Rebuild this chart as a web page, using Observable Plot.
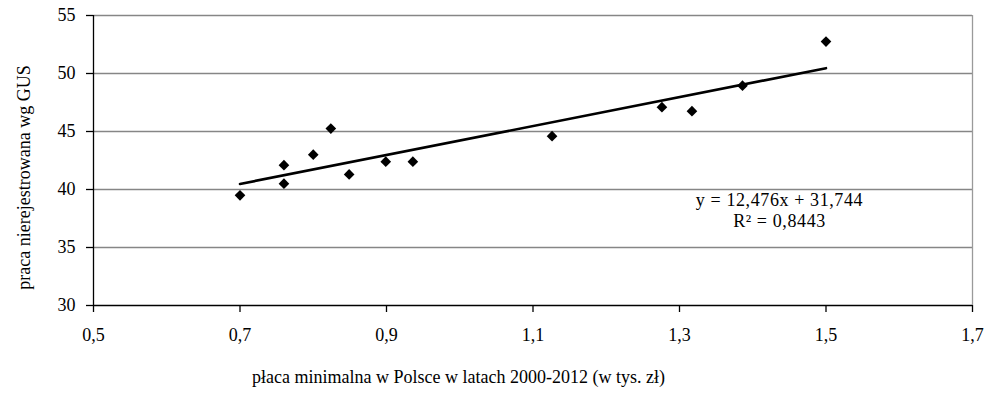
<!DOCTYPE html>
<html>
<head>
<meta charset="utf-8">
<script src="https://cdn.jsdelivr.net/npm/d3@7"></script>
<script src="https://cdn.jsdelivr.net/npm/@observablehq/plot@0.6"></script>
<style>
  html, body { margin: 0; padding: 0; background: #fff; }
  #chart { position: relative; width: 990px; height: 400px; }
  svg { font-family: "Liberation Serif", "DejaVu Serif", serif; }
  .eq text { letter-spacing: 0.6px; }
</style>
</head>
<body>
<div id="chart"></div>
<script>
// Data (minimum wage vs unregistered work, 2000-2012)
const minWage = [0.700, 0.760, 0.760, 0.800, 0.824, 0.849, 0.899, 0.936, 1.126, 1.276, 1.317, 1.386, 1.500];
const unregistered = [39.5, 42.1, 40.5, 43.0, 45.25, 41.3, 42.4, 42.4, 44.6, 47.1, 46.75, 48.95, 52.75];
const trendSlope = 12.476;
const trendIntercept = 31.744;
const equationLines = ["y = 12,476x + 31,744", "R² = 0,8443"];
const xTicks = [0.5, 0.7, 0.9, 1.1, 1.3, 1.5, 1.7];
const yTicks = [30, 35, 40, 45, 50, 55];
const xLabel = "płaca minimalna w Polsce w latach 2000-2012 (w tys. zł)";
const yLabel = "praca nierejestrowana wg GUS";

const points = minWage.map((x, i) => ({x, y: unregistered[i]}));
const [x0, x1] = d3.extent(minWage);
const trend = [x0, x1].map(x => ({x, y: trendSlope * x + trendIntercept}));
const fmt = d => d.toFixed(1).replace(".", ",");

const chart = Plot.plot({
  width: 990,
  height: 400,
  marginLeft: 93,
  marginRight: 18,
  marginTop: 15,
  marginBottom: 95,
  style: {fontFamily: "Liberation Serif, serif", fontSize: "18px", color: "#000", background: "#fff"},
  x: {domain: [0.5, 1.7]},
  y: {domain: [30, 55]},
  marks: [
    Plot.gridY(yTicks.slice(1), {stroke: "#868686", strokeOpacity: 1, strokeWidth: 1.3}),
    Plot.ruleX([1.7], {stroke: "#9a9a9a", strokeWidth: 1.3}),
    Plot.ruleX([0.5], {stroke: "#000", strokeWidth: 1.3}),
    Plot.ruleY([30], {stroke: "#000", strokeWidth: 1.3}),
    Plot.axisX(xTicks, {tickFormat: fmt, tickSize: 7, tickPadding: 16, stroke: "#000", strokeWidth: 1.3, fill: "#000", label: null, fontSize: 18}),
    Plot.axisY(yTicks, {tickSize: 7, tickPadding: 11, stroke: "#000", strokeWidth: 1.3, fill: "#000", label: null, fontSize: 18}),
    Plot.line(trend, {x: "x", y: "y", stroke: "#000", strokeWidth: 2.6}),
    Plot.dot(points, {x: "x", y: "y", symbol: "diamond2", r: 4.8, fill: "#000", stroke: "none"}),
    Plot.text([equationLines.join("\n")], {className: "eq", frameAnchor: "top-left", dx: 779 - 93, dy: 203 - 15 - 13, text: d => d, textAnchor: "middle", lineAnchor: "top", lineHeight: 1.2, fontSize: 18, fill: "#000"}),
    Plot.text([xLabel], {frameAnchor: "bottom-left", dx: 458 - 93, dy: 377 - 305, text: d => d, textAnchor: "middle", lineAnchor: "middle", fontSize: 18, fill: "#000"}),
    Plot.text([yLabel], {frameAnchor: "top-left", dx: 24 - 93, dy: 177 - 15, text: d => d, rotate: -90, textAnchor: "middle", lineAnchor: "middle", fontSize: 18, fill: "#000"})
  ]
});
document.getElementById("chart").appendChild(chart);
</script>
</body>
</html>
